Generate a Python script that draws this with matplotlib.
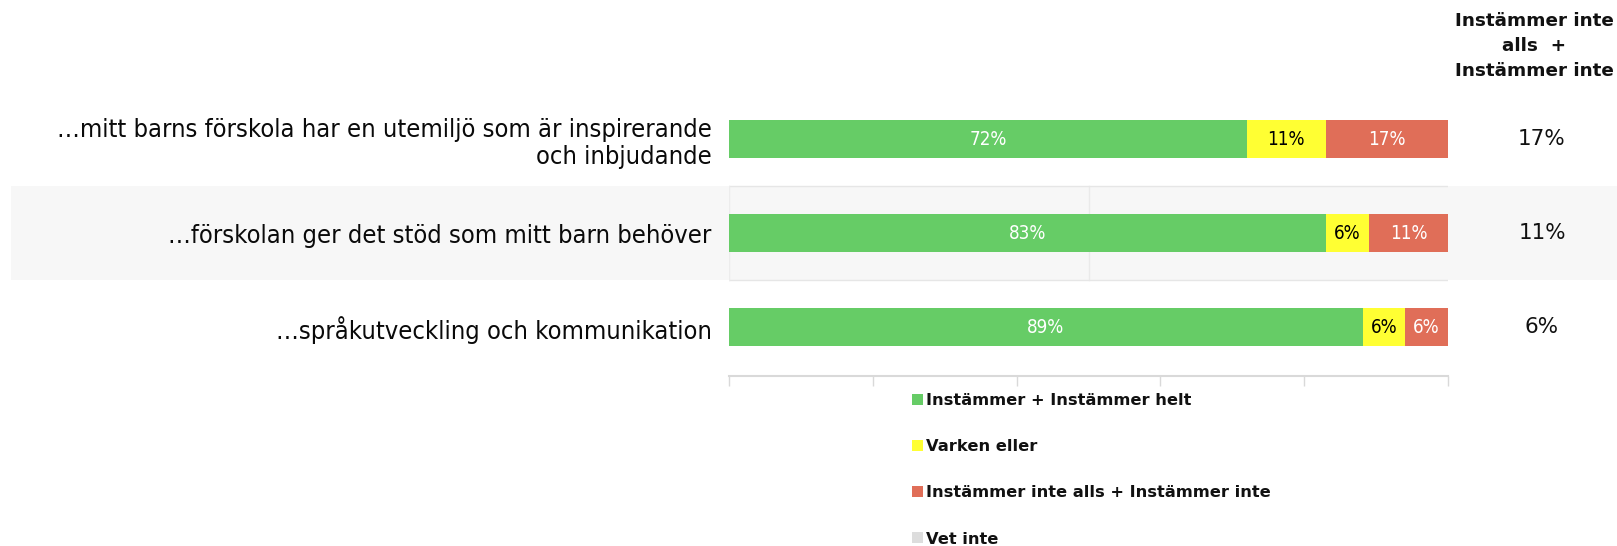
import numpy as np
import matplotlib
matplotlib.use("Agg")
import matplotlib.pyplot as plt
import matplotlib.transforms as mtransforms
from matplotlib import font_manager
from matplotlib.patches import Rectangle, Patch

# Data
fragor = [
    "…mitt barns förskola har en utemiljö som är inspirerande\noch inbjudande",
    "…förskolan ger det stöd som mitt barn behöver",
    "…språkutveckling och kommunikation",
]
instammer = [72, 83, 89]
varken = [11, 6, 6]
instammer_inte = [17, 11, 6]
vet_inte = [0, 0, 0]
summa_negativ = [17, 11, 6]

serier = ["Instämmer + Instämmer helt", "Varken eller",
          "Instämmer inte alls + Instämmer inte", "Vet inte"]
farger = ["#66cc66", "#ffff33", "#e06e58", "#dddddd"]
textfarger = ["white", "black", "white", "black"]

# condensed face for the question labels
cond_files = [f.fname for f in font_manager.fontManager.ttflist
              if f.name == "DejaVu Sans" and "Condensed" in f.fname
              and "Bold" not in f.fname and "Oblique" not in f.fname]
if cond_files:
    cond = font_manager.FontProperties(fname=cond_files[0])
else:
    cond = font_manager.FontProperties(family="DejaVu Sans")

fig = plt.figure(figsize=(16.17, 5.46), dpi=100)
ax = fig.add_axes([729/1617, 1 - 376/546, 719/1617, 284/546])

y = np.arange(len(fragor))
data = np.array([instammer, varken, instammer_inte, vet_inte], dtype=float)
totals = data.sum(axis=0)
norm = data / totals * 100  # rows sum to 100 in the chart

# grey band behind second row
trans = mtransforms.blended_transform_factory(fig.transFigure, ax.transData)
ax.add_patch(Rectangle((11/1617, 0.5), 1, 1.0, transform=trans,
                       facecolor="#f7f7f7", edgecolor="none", zorder=0,
                       clip_on=False))
ax.plot([50, 50], [0.5, 1.5], color="#eaeaea", lw=1, zorder=0.5)
ax.plot([0, 100], [0.5, 0.5], color="#e6e6e6", lw=1, zorder=0.5)
ax.plot([0, 100], [1.5, 1.5], color="#e6e6e6", lw=1, zorder=0.5)
ax.plot([0, 0], [0.5, 1.5], color="#ececec", lw=1, zorder=0.5)

left = np.zeros(len(fragor))
for i in range(len(serier)):
    ax.barh(y, norm[i], left=left, height=0.40, color=farger[i], zorder=2)
    for j in range(len(fragor)):
        if data[i, j] > 0:
            p = cond.copy()
            p.set_size(13.5)
            ax.text(left[j] + norm[i, j] / 2, y[j], f"{int(data[i, j])}%",
                    ha="center", va="center", color=textfarger[i],
                    fontproperties=p, zorder=3)
    left += norm[i]

ax.set_xlim(0, 100)
ax.set_ylim(2.52, -0.5)
ax.set_xticks(np.arange(0, 101, 20))
ax.set_xticklabels([])
ax.tick_params(axis="x", length=7, color="#d9d9d9", width=1)
ax.set_yticks(y)
lp = cond.copy()
lp.set_size(18.3)
ax.set_yticklabels(fragor, fontproperties=lp, color="#0a0a0a")
ax.tick_params(axis="y", length=0, pad=12.5)
for lab in ax.get_yticklabels():
    lab.set_horizontalalignment("right")
    lab.set_multialignment("right")
    lab.set_linespacing(1.2)
for s in ["top", "right", "left"]:
    ax.spines[s].set_visible(False)
ax.spines["bottom"].set_color("#d9d9d9")
ax.spines["bottom"].set_linewidth(1.5)

# right column
for j in range(len(fragor)):
    ax.text(1542/1617, y[j], f"{summa_negativ[j]}%", transform=trans,
            ha="center", va="center", fontsize=15.5, color="#111111")
fig.text(1534/1617, 1 - 46/546, "Instämmer inte\nalls  +\nInstämmer inte",
         ha="center", va="center", fontsize=13.2, fontweight="bold",
         linespacing=1.48, color="#111111")

# legend
handles = [Patch(facecolor=c, edgecolor="none") for c in farger]
leg = fig.legend(handles, serier, loc="upper left",
                 bbox_to_anchor=(912/1617, 1 - 393/546), frameon=False,
                 prop={"size": 11.7, "weight": "bold"},
                 handlelength=0.65, handleheight=0.65, handletextpad=0.2,
                 labelspacing=1.92, borderaxespad=0, borderpad=0)
for t in leg.get_texts():
    t.set_color("#111111")

fig.savefig("out.png", dpi=100)
